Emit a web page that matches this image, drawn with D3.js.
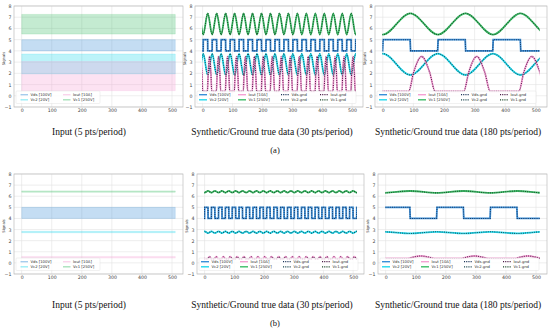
<!DOCTYPE html>
<html><head><meta charset="utf-8">
<script src="https://cdn.jsdelivr.net/npm/d3@7"></script>
<style>body{margin:0;background:#fff} svg{display:block}</style>
</head><body><svg id="c" width="550" height="331"></svg>
<script>
// ---------- data ----------
const xTicks = [0, 100, 200, 300, 400, 500];
const yTicks = [-1, 0, 1, 2, 3, 4, 5, 6, 7, 8];
const sampleRange = [0, 511];
const seriesNames = ["Vds [100V]", "Vc2 [20V]", "Iout [10A]", "Vc1 [250V]"];
const gndNames = ["Vds.gnd", "Vc2.gnd", "Iout.gnd", "Vc1.gnd"];
const seriesColors = ["#3a8fd8", "#22d8ec", "#f5a0d4", "#3dbd68"];
const gndColors = ["#1b3358", "#1d4850", "#4a1a45", "#1a4728"];
const titlesTop = ["Input (5 pts/period)", "Synthetic/Ground true data (30 pts/period)", "Synthetic/Ground true data (180 pts/period)"];
const titlesBottom = titlesTop;
const figLabels = ["(a)", "(b)"];

// Input panels (5 pts/period): [low, high] envelope of each series (Vds, Vc2, Iout, Vc1)
const inputBandsA = [[4.0, 5.0], [1.95, 3.72], [0.45, 3.05], [5.5, 7.25]];
const inputBandsB = [[4.0, 5.0], [2.72, 2.84], [0.43, 0.58], [6.36, 6.48]];

// Periodic panels: start of each cycle (Vc1 trough / Vds rising edge) and period length
const cyclesA30 = [-28, 2, 32, 62, 92, 122, 152, 182, 212, 242, 272, 302, 332, 362, 392, 422, 452, 482, 512];
const periodA30 = 30;
const cyclesA180 = [-180, 0, 180, 360, 540];
const periodA180 = 180;
const cyclesB30 = [-23, 0, 23, 47, 70, 93, 116, 140, 163, 186, 209, 233, 256, 279, 302, 326, 349, 372, 395, 419, 442, 465, 488, 512];
const periodB30 = 23.3;
const cyclesB180 = [-186, -8, 170, 348, 526];
const periodB180 = 178;

// One-cycle shapes: [phase, relative level 0..1]
const shapeVds = [[-0.004, 0], [0.004, 1], [0.496, 1], [0.504, 0]];
const shapeVc2 = [[0, 1], [0.5, 0]];
const shapeIout = [[0, 0], [0.47, 0], [0.56, 0.55], [0.705, 1], [0.85, 0.55], [0.95, 0]];
const shapeVc1 = [[0, 0], [0.5, 1]];

// [low, high] levels of each series (Vds, Vc2, Iout, Vc1)
const levelsA30 = [[4, 5], [1.85, 3.75], [0.4, 3.5], [5.45, 7.35]];
const levelsA180 = [[4, 5], [1.85, 3.75], [0.4, 3.5], [5.45, 7.35]];
const levelsB30 = [[4, 5], [2.68, 2.84], [0.36, 0.56], [6.32, 6.48]];
const levelsB180 = [[4, 5], [2.65, 2.8], [0.4, 0.62], [6.3, 6.47]];

// ---------- layout ----------
const xDomain = [-25.5, 536.5];
const yDomain = [-1, 8];
const panels = [
  {x0: 14, x1: 183, y0: 6, y1: 107, kind: "input", bands: inputBandsA, title: titlesTop[0], tx: 89, ty: 134.5},
  {x0: 195, x1: 363, y0: 6, y1: 107, kind: "wave", cycles: cyclesA30, period: periodA30, levels: levelsA30, title: titlesTop[1], tx: 272, ty: 134.5},
  {x0: 375, x1: 547, y0: 6, y1: 107, kind: "wave", cycles: cyclesA180, period: periodA180, levels: levelsA180, title: titlesTop[2], tx: 458, ty: 134.5},
  {x0: 14, x1: 183, y0: 174, y1: 274, kind: "input", bands: inputBandsB, title: titlesBottom[0], tx: 89, ty: 308},
  {x0: 197, x1: 364, y0: 174, y1: 274, kind: "wave", cycles: cyclesB30, period: periodB30, levels: levelsB30, title: titlesBottom[1], tx: 272, ty: 308},
  {x0: 378, x1: 547, y0: 174, y1: 274, kind: "wave", cycles: cyclesB180, period: periodB180, levels: levelsB180, title: titlesBottom[2], tx: 458, ty: 308}
];
const shapes = [shapeVds, shapeVc2, shapeIout, shapeVc1];

function buildWave(cycles, period, shape, lv) {
  const pts = [];
  cycles.forEach(c => shape.forEach(([ph, v]) => pts.push([c + ph * period, lv[0] + v * (lv[1] - lv[0])])));
  return pts;
}

const svg = d3.select("#c");
const defs = svg.append("defs");

panels.forEach((p, pi) => {
  const x = d3.scaleLinear().domain(xDomain).range([p.x0, p.x1]);
  const y = d3.scaleLinear().domain(yDomain).range([p.y1, p.y0]);
  const g = svg.append("g");

  // grid
  g.selectAll(".gx").data(xTicks).join("line")
    .attr("x1", d => x(d)).attr("x2", d => x(d)).attr("y1", p.y0).attr("y2", p.y1)
    .attr("stroke", "#e3e3e3").attr("stroke-width", 0.6);
  g.selectAll(".gy").data(yTicks).join("line")
    .attr("x1", p.x0).attr("x2", p.x1).attr("y1", d => y(d)).attr("y2", d => y(d))
    .attr("stroke", "#e3e3e3").attr("stroke-width", 0.6);

  // clip
  const cid = "clip" + pi;
  defs.append("clipPath").attr("id", cid).append("rect")
    .attr("x", x(sampleRange[0]) - 0.5).attr("width", x(sampleRange[1]) - x(sampleRange[0]) + 1)
    .attr("y", p.y0).attr("height", p.y1 - p.y0);
  const dg = g.append("g").attr("clip-path", `url(#${cid})`);

  if (p.kind === "input") {
    const area = d3.area().x(d => x(d[0])).y0(d => y(d[1])).y1(d => y(d[2]));
    p.bands.forEach((b, i) => {
      const pts = [[sampleRange[0], b[0], b[1]], [sampleRange[1], b[0], b[1]]];
      dg.append("path").attr("d", area(pts))
        .attr("fill", seriesColors[i]).attr("fill-opacity", 0.3)
        .attr("stroke", seriesColors[i]).attr("stroke-opacity", 0.35).attr("stroke-width", 0.5);
    });
  } else {
    const data = shapes.map((s, i) => buildWave(p.cycles, p.period, s, p.levels[i]));
    const lineSmooth = d3.line().x(d => x(d[0])).y(d => y(d[1])).curve(d3.curveMonotoneX);
    const lineStep = d3.line().x(d => x(d[0])).y(d => y(d[1]));
    data.forEach((pts, i) => {
      dg.append("path").attr("d", (i === 0 ? lineStep : lineSmooth)(pts))
        .attr("fill", "none").attr("stroke", seriesColors[i]).attr("stroke-width", 1.8);
    });
    data.forEach((pts, i) => {
      dg.append("path").attr("d", (i === 0 ? lineStep : lineSmooth)(pts))
        .attr("fill", "none").attr("stroke", gndColors[i]).attr("stroke-width", 1.05)
        .attr("stroke-dasharray", "0.9,1.3");
    });
  }

  // frame
  g.append("rect").attr("x", p.x0).attr("y", p.y0).attr("width", p.x1 - p.x0).attr("height", p.y1 - p.y0)
    .attr("fill", "none").attr("stroke", "#bcbcbc").attr("stroke-width", 0.7);

  // axes
  const ax = g.append("g").attr("transform", `translate(0,${p.y1})`)
    .call(d3.axisBottom(x).tickValues(xTicks).tickSize(0).tickPadding(1.5));
  ax.select(".domain").remove();
  ax.selectAll("text").attr("font-size", 4.7).attr("font-family", "DejaVu Sans").attr("fill", "#444");
  const ay = g.append("g").attr("transform", `translate(${p.x0},0)`)
    .call(d3.axisLeft(y).tickValues(yTicks).tickSize(0).tickPadding(2.5).tickFormat(d3.format("d")));
  ay.select(".domain").remove();
  ay.selectAll("text").attr("font-size", 4.7).attr("font-family", "DejaVu Sans").attr("fill", "#444");

  g.append("text").attr("transform", `translate(${p.x0 - 9},${(p.y0 + p.y1) / 2 + 2}) rotate(-90)`)
    .attr("text-anchor", "middle").attr("font-size", 3.7).attr("font-family", "DejaVu Sans").attr("fill", "#333")
    .text("Signals");

  // legend
  const lg = g.append("g");
  const rowY = [p.y1 - 12.3, p.y1 - 7.2];
  let entries, colX, boxW, sampleLen;
  if (p.kind === "input") {
    entries = seriesNames.map((n, i) => ({name: n, color: seriesColors[i], dash: null, op: 0.45}));
    colX = [6.5, 49]; boxW = 84; sampleLen = 7.5;
  } else {
    entries = seriesNames.map((n, i) => ({name: n, color: seriesColors[i], dash: null, op: 1}))
      .concat(gndNames.map((n, i) => ({name: n, color: gndColors[i], dash: "1.1,1.1", op: 1})));
    colX = [4, 43, 86, 125]; boxW = 159; sampleLen = 8;
  }
  lg.append("rect").attr("x", p.x0 + 2).attr("y", p.y1 - 16).attr("width", boxW).attr("height", 12.5)
    .attr("fill", "#fff").attr("fill-opacity", 0.8).attr("stroke", "#dcdcdc").attr("stroke-width", 0.4).attr("rx", 1);
  entries.forEach((e, k) => {
    const col = Math.floor(k / 2), row = k % 2;
    const lx = p.x0 + colX[col], ly = rowY[row];
    lg.append("line").attr("x1", lx).attr("x2", lx + sampleLen).attr("y1", ly).attr("y2", ly)
      .attr("stroke", e.color).attr("stroke-width", e.dash ? 1.2 : 1.4).attr("stroke-opacity", e.op)
      .attr("stroke-dasharray", e.dash);
    lg.append("text").attr("x", lx + sampleLen + 2.5).attr("y", ly + 1.3)
      .attr("font-size", 3.8).attr("font-family", "DejaVu Sans").attr("fill", "#333").text(e.name);
  });

  // subplot title
  svg.append("text").attr("x", p.tx).attr("y", p.ty).attr("text-anchor", "middle")
    .attr("font-family", "Liberation Serif").attr("font-size", 9.5).attr("fill", "#111").text(p.title);
});

svg.append("text").attr("x", 275).attr("y", 153).attr("text-anchor", "middle")
  .attr("font-family", "Liberation Serif").attr("font-size", 8.5).attr("fill", "#111").text(figLabels[0]);
svg.append("text").attr("x", 275).attr("y", 326).attr("text-anchor", "middle")
  .attr("font-family", "Liberation Serif").attr("font-size", 8.5).attr("fill", "#111").text(figLabels[1]);
</script>
</body></html>
